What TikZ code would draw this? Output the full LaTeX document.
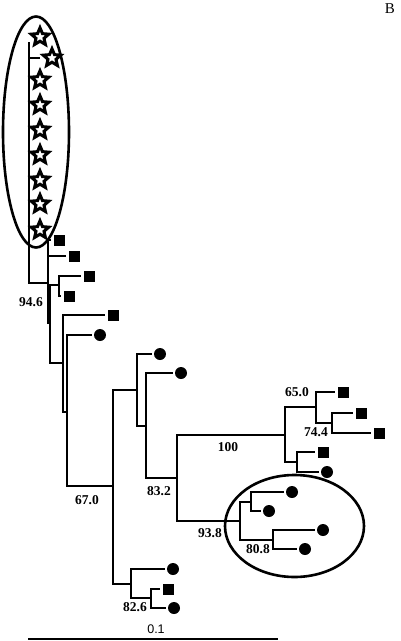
\documentclass[tikz,border=0pt]{standalone}
\usepackage{fontspec}
\setmainfont{Liberation Serif}
\newfontfamily\sansf{Liberation Sans}
\usetikzlibrary{shapes.geometric}
\begin{document}
\begin{tikzpicture}[x=1pt,y=-1pt,
  br/.style={line width=1.9pt},
  lf/.style={line width=1.9pt,shorten >=2pt},
  sqm/.style={rectangle,fill=black,minimum size=11pt,inner sep=0pt},
  cim/.style={circle,fill=black,minimum size=12pt,inner sep=0pt},
  stm/.style={star,star points=5,star point ratio=2.2,draw=black,fill=white,line width=3pt,minimum size=18.5pt,inner sep=0pt},
  lab/.style={font=\bfseries\fontsize{13.5}{13.5}\selectfont,inner sep=0pt},
  ring/.style={ellipse,draw=black,line width=2.6pt,inner sep=0pt}
]
\useasboundingbox (0,0) rectangle (400,641);

% group outlines
\node[ring,minimum width=66pt,minimum height=231pt] (grpA) at (36,132) {};
\node[ring,minimum width=139pt,minimum height=102pt] (grpB) at (294.5,526) {};

% internal nodes
\coordinate (rt) at (29,42);
\coordinate (n1) at (48,283);
\coordinate (n2) at (50,323);
\coordinate (c1) at (59,285);
\coordinate (n3) at (63,363);
\coordinate (n4) at (67,412);
\coordinate (n5) at (113,486);
\coordinate (n6) at (137,390);
\coordinate (n8) at (146,426);
\coordinate (n9) at (177,478);
\coordinate (n10) at (285,435);
\coordinate (n12) at (316,407);
\coordinate (n14) at (332,423);
\coordinate (n13) at (297,462);
\coordinate (n11) at (240,521);
\coordinate (n15) at (251,502);
\coordinate (n16) at (273,540);
\coordinate (n7) at (131,584);
\coordinate (n17) at (151,598);

% leaf markers
\node[sqm] (q1) at (59,240) {};
\node[sqm] (q2) at (74,256) {};
\node[sqm] (q3) at (89,276) {};
\node[sqm] (q4) at (69,296) {};
\node[sqm] (q5) at (113,315) {};
\node[cim] (k1) at (100,335) {};
\node[cim] (k2) at (160,354) {};
\node[cim] (k3) at (181,373) {};
\node[sqm] (q6) at (343,392) {};
\node[sqm] (q7) at (361,413) {};
\node[sqm] (q8) at (379,433) {};
\node[sqm] (q9) at (323,452) {};
\node[cim] (k4) at (327,472) {};
\node[cim] (k5) at (292,492) {};
\node[cim] (k6) at (269,511) {};
\node[cim] (k7) at (323,530) {};
\node[cim] (k8) at (305,549) {};
\node[cim] (k9) at (173,569) {};
\node[sqm] (q10) at (168,589) {};
\node[cim] (k10) at (174,608) {};

% tree
\draw[br] (rt) |- (n1);
\draw[lf] (n1) |- (q1.west);
\draw[lf] (n1) |- (q2.west);
\draw[br] (n1) |- (n2);
\draw[br] (n2) |- (c1);
\draw[br] (n2) |- (n3);
\draw[lf] (c1) |- (q3.west);
\draw[lf] (c1) |- (q4.west);
\draw[lf] (n3) |- (q5.west);
\draw[br] (n3) |- (n4);
\draw[lf] (n4) |- (k1.west);
\draw[br] (n4) |- (n5);
\draw[br] (n5) |- (n6);
\draw[br] (n5) |- (n7);
\draw[lf] (n6) |- (k2.west);
\draw[br] (n6) |- (n8);
\draw[lf] (n8) |- (k3.west);
\draw[br] (n8) |- (n9);
\draw[br] (n9) |- (n10);
\draw[br] (n9) |- (n11);
\draw[br] (n10) |- (n12);
\draw[br] (n10) |- (n13);
\draw[lf] (n12) |- (q6.west);
\draw[br] (n12) |- (n14);
\draw[lf] (n14) |- (q7.west);
\draw[lf] (n14) |- (q8.west);
\draw[lf] (n13) |- (q9.west);
\draw[lf] (n13) |- (k4.west);
\draw[br] (n11) |- (n15);
\draw[br] (n11) |- (n16);
\draw[lf] (n15) |- (k5.west);
\draw[lf] (n15) |- (k6.west);
\draw[lf] (n16) |- (k7.west);
\draw[lf] (n16) |- (k8.west);
\draw[lf] (n7) |- (k9.west);
\draw[br] (n7) |- (n17);
\draw[lf] (n17) |- (q10.west);
\draw[lf] (n17) |- (k10.west);

% stars
\coordinate (st2e) at (40,58);
\draw[br] (rt |- st2e) -- (st2e);
\node[stm] (st1) at (40,37) {};
\node[stm] (st2) at (52,58) {};
\node[stm] (st3) at (40,80) {};
\node[stm] (st4) at (40,105) {};
\node[stm] (st5) at (40,130) {};
\node[stm] (st6) at (40,155) {};
\node[stm] (st7) at (40,180) {};
\node[stm] (st8) at (40,204) {};
\node[stm] (st9) at (40,230) {};

% support values
\node[lab] (l1) at (31,302) {94.6};
\node[lab] (l2) at (87,500) {67.0};
\node[lab] (l3) at (159,491) {83.2};
\node[lab] (l4) at (228,447) {100};
\node[lab] (l5) at (297,392) {65.0};
\node[lab] (l6) at (316,432) {74.4};
\node[lab] (l7) at (210,533) {93.8};
\node[lab] (l8) at (258,549) {80.8};
\node[lab] (l9) at (135,607) {82.6};

% panel letter and scale
\node[font=\fontsize{15}{15}\selectfont,inner sep=0pt] (tB) at (390,9) {B};
\coordinate (sb1) at (28,639);
\coordinate (sb2) at (278,639);
\draw[line width=2.4pt] (sb1) -- (sb2);
\node[font=\sansf\fontsize{12.5}{12.5}\selectfont,inner sep=0pt] (ts) at (156,629) {0.1};
\end{tikzpicture}
\end{document}
